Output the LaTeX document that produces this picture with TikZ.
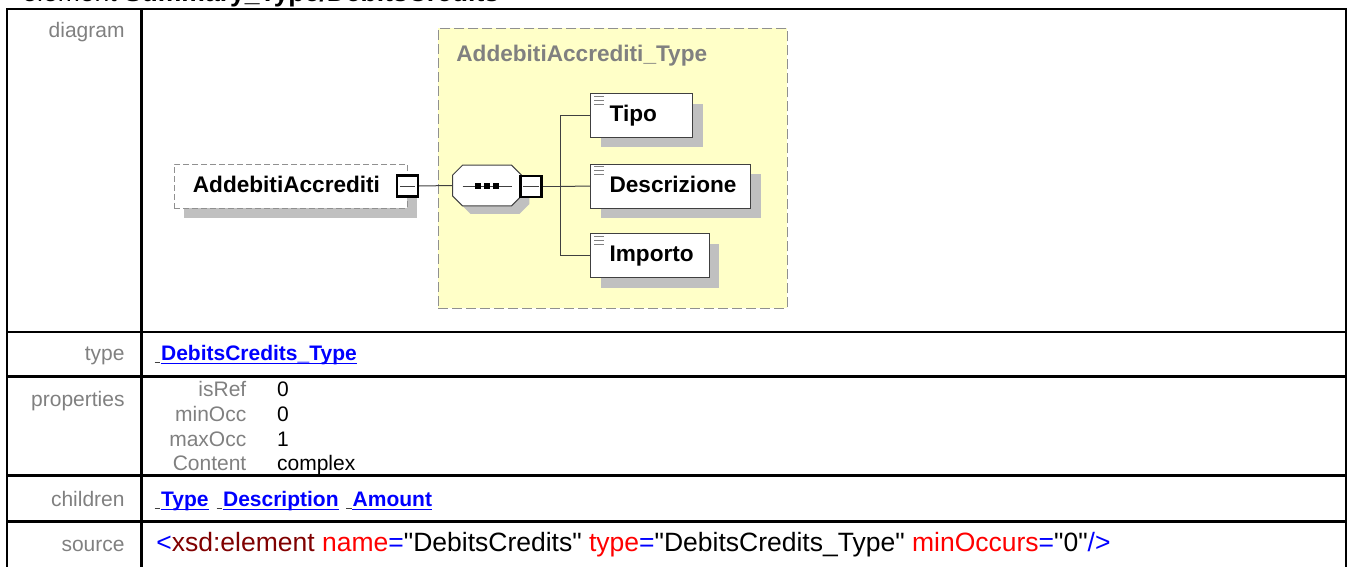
\documentclass[tikz,border=0pt]{standalone}
\usepackage{fontspec}
\setmainfont{Liberation Sans}
\newfontfamily\srcfamily{Liberation Sans}
\usetikzlibrary{shadows}

\definecolor{labelgrey}{HTML}{808080}
\definecolor{linkblue}{HTML}{0000FF}
\definecolor{typeyellow}{HTML}{FFFFC8}
\definecolor{shadowgrey}{HTML}{C0C0C0}
\definecolor{dashgrey}{HTML}{909090}
\definecolor{boxline}{HTML}{404040}
\definecolor{xmaroon}{HTML}{800000}
\definecolor{xred}{HTML}{FF0000}

\newcommand{\lblfont}{\fontsize{10.5}{12}\selectfont}
\newcommand{\diafont}{\fontsize{11.3}{13}\selectfont\bfseries}
\newcommand{\bigfont}{\fontsize{13.25}{15}\selectfont}

\begin{document}
\begin{tikzpicture}[
  x=0.5pt, y=-0.5pt,
  lbl/.style={text=labelgrey, font=\lblfont, inner sep=0, anchor=base east},
  val/.style={font=\lblfont, inner sep=0, anchor=base west},
  link/.style={text=linkblue, font=\lblfont\bfseries, inner sep=0, anchor=base west},
  uline/.style={draw=linkblue, line width=0.6pt},
  linkmark/.style={draw=boxline, line width=0.5pt},
  grid/.style={draw=black, line width=1.1pt},
  elembox/.style={draw=boxline, fill=white, line width=0.5pt, minimum height=22pt, inner sep=0,
    drop shadow={shadow xshift=5pt, shadow yshift=-5pt, opacity=1, fill=shadowgrey}},
  optbox/.style={elembox, draw=dashgrey, dash pattern=on 3pt off 1.5pt},
  elemtext/.style={font=\diafont, inner sep=0, anchor=base west},
  minusbox/.style={draw=black, fill=white, line width=1.1pt, minimum size=10.5pt, inner sep=0},
  conn/.style={draw=boxline, line width=0.5pt},
  icon/.style={draw=labelgrey, line width=0.5pt}
]
\useasboundingbox (0,0) rectangle (1348,567);

% heading (cut at the top)
\node[font=\bigfont, inner sep=0, anchor=base west] (heading) at (22,2)
  {element \textbf{Summary\_Type/DebitsCredits}};

% table
\draw[grid] (7,9) rectangle (1345.7,600);
\draw[grid] (141.5,9) -- (141.5,600);
\foreach \ry in {332,376.5,475.5,521.5}
  \draw[grid] (7,\ry) -- (1345.7,\ry);

% left column
\node[lbl] (lbldiagram) at (125,37.5) {diagram};
\node[lbl] (lbltype) at (125,360.5) {type};
\node[lbl] (lblprops) at (125,406) {properties};
\node[lbl] (lblchildren) at (125,506.5) {children};
\node[lbl] (lblsource) at (125,551.5) {source};

% complex type box
\node[draw=dashgrey, fill=typeyellow, line width=0.5pt, dash pattern=on 5pt off 2pt,
  minimum width=174.5pt, minimum height=140pt, inner sep=0] (ctype) at (612.8,168.3) {};
\node[elemtext, text=labelgrey] (ctypename) at (456,61.7) {AddebitiAccrediti\_Type};

% element
\node[optbox, minimum width=116.5pt] (elem) at (290.5,186) {};
\node[elemtext] (elemname) at ([xshift=9.5pt,yshift=-3.3pt]elem.west) {AddebitiAccrediti};
\node[minusbox] (elemminus) at (407.5,186) {};
\draw[conn] ([xshift=2pt]elemminus.west) -- ([xshift=-2pt]elemminus.east);

% sequence
\node[inner sep=0, minimum width=34pt, minimum height=20pt] (seq) at (487,185.5) {};
\draw[draw=boxline, fill=white, line width=0.5pt,
  drop shadow={shadow xshift=4pt, shadow yshift=-4pt, opacity=1, fill=shadowgrey}]
  ([xshift=5pt]seq.north west) -- ([xshift=-5pt]seq.north east)
  -- ([yshift=-5pt]seq.north east) -- ([yshift=5pt]seq.south east)
  -- ([xshift=-5pt]seq.south east) -- ([xshift=5pt]seq.south west)
  -- ([yshift=5pt]seq.south west) -- ([yshift=-5pt]seq.north west) -- cycle;
\draw[conn] (462.7,186) -- (511.7,186);
\foreach \dx in {-9,0,9}
  \fill[black] (487+\dx,186) +(-3.4,-3.2) rectangle +(3.4,3.2);
\node[minusbox] (seqminus) at (531,186.5) {};
\draw[conn] ([xshift=2pt]seqminus.west) -- ([xshift=-2pt]seqminus.east);

% children
\node[elembox, minimum width=51pt, minimum height=21.7pt] (tipo) at (641.7,115.7) {};
\node[elembox, minimum width=80pt] (descr) at (670.7,186) {};
\node[elembox, minimum width=59.2pt] (importo) at (649.9,255.5) {};
\node[elemtext] (tiponame) at ([xshift=9.5pt,yshift=-3pt]tipo.west) {Tipo};
\node[elemtext] (descrname) at ([xshift=9.5pt,yshift=-3pt]descr.west) {Descrizione};
\node[elemtext] (importoname) at ([xshift=9.5pt,yshift=-3pt]importo.west) {Importo};
\foreach \b in {tipo,descr,importo}
  \foreach \k in {1.7,3.7,5.7}
    \draw[icon] ([xshift=2pt,yshift=-\k pt]\b.north west) -- ++(5pt,0);

% connectors
\coordinate (fork) at (560,186.5);
\draw[conn] (elemminus.east) -- (seq.west);
\draw[conn] (seqminus.east) -- (fork);
\draw[conn] (fork) |- (tipo.west);
\draw[conn] (fork) -- (descr.west);
\draw[conn] (fork) |- (importo.west);

% type row
\node[link] (typelink) at (160.7,360.5) {DebitsCredits\_Type};

% properties
\node[lbl] (kisref) at (246.7,396.7) {isRef};
\node[lbl] (kminocc) at (246.7,421.4) {minOcc};
\node[lbl] (kmaxocc) at (246.7,446) {maxOcc};
\node[lbl] (kcontent) at (246.7,470.7) {Content};
\node[val] (visref) at (276.7,396.7) {0};
\node[val] (vminocc) at (276.7,421.4) {0};
\node[val] (vmaxocc) at (276.7,446) {1};
\node[val] (vcontent) at (276.7,470.7) {complex};

% children row
\node[link] (childtype) at (160.7,506.5) {Type};
\node[link] (childdescr) at (222.7,506.5) {Description};
\node[link] (childamount) at (352.3,506.5) {Amount};
\foreach \n in {typelink,childtype,childdescr,childamount} {
  \draw[uline] ([yshift=-1.4pt]\n.base west) -- ([yshift=-1.4pt]\n.base east);
  \draw[linkmark] ([xshift=-3pt,yshift=-0.9pt]\n.base west) -- ([xshift=-0.4pt,yshift=-0.9pt]\n.base west);
}

% source row
\node[font=\srcfamily\bigfont, inner sep=0, anchor=base west] (src) at (156,551.5)
  {\textcolor{linkblue}{<}\textcolor{xmaroon}{xsd:element} \textcolor{xred}{name}\textcolor{linkblue}{=}"DebitsCredits" \textcolor{xred}{type}\textcolor{linkblue}{=}"DebitsCredits\_Type" \textcolor{xred}{minOccurs}\textcolor{linkblue}{=}"0"\textcolor{linkblue}{/>}};
\end{tikzpicture}
\end{document}
